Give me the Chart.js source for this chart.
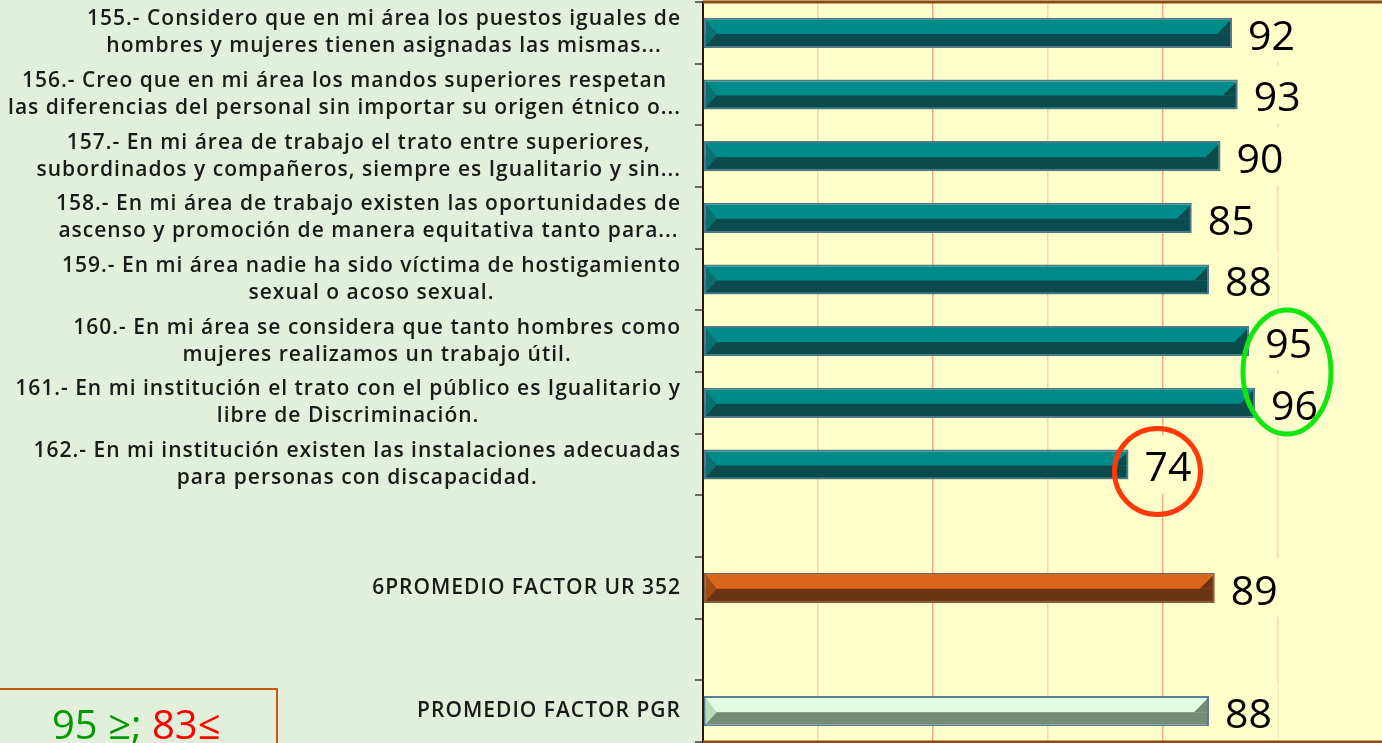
<!DOCTYPE html>
<html>
<head>
<meta charset="utf-8">
<script src="https://cdn.jsdelivr.net/npm/chart.js@4.4.1/dist/chart.umd.min.js"></script>
<style>
  html, body { margin: 0; padding: 0; width: 1382px; height: 743px; overflow: hidden; background: #e2efda; }
  #wrap { position: absolute; left: 0; top: 0; width: 1400px; height: 743px; }
  #rango {
    position: absolute; left: -2px; top: 688px; width: 280px; height: 80px;
    border: 2px solid #c55a11; box-sizing: border-box;
  }
  #rango span.t {
    position: absolute; left: 52px; top: 9px; white-space: nowrap;
    font-family: "Open Sans", sans-serif; font-weight: 500; font-size: 40px; line-height: 50px;
  }
</style>
</head>
<body>
<div id="wrap"><canvas id="grafica" width="1400" height="743"></canvas></div>
<div id="rango"><span class="t"><span style="color:#009900">95 ≥;</span> <span style="color:#ff0000">83≤</span></span></div>

<script>
// preguntas del factor (cada una en dos renglones)
const categorias = [
  ["155.- Considero que en mi área los puestos iguales de", "hombres y mujeres tienen asignadas las mismas..."],
  ["156.- Creo que en mi área los mandos superiores respetan", "las diferencias del personal sin importar su origen étnico o..."],
  ["157.- En mi área de trabajo el trato entre superiores,", "subordinados y compañeros, siempre es Igualitario y sin..."],
  ["158.- En mi área de trabajo existen las oportunidades de", "ascenso y promoción de manera equitativa tanto para..."],
  ["159.- En mi área nadie ha sido víctima de hostigamiento", "sexual o acoso sexual."],
  ["160.- En mi área se considera que tanto hombres como", "mujeres realizamos un trabajo útil."],
  ["161.- En mi institución el trato con el público es Igualitario y", "libre de Discriminación."],
  ["162.- En mi institución existen las instalaciones adecuadas", "para personas con discapacidad."],
  "",
  "6PROMEDIO FACTOR UR 352",
  "",
  "PROMEDIO FACTOR PGR"
];
const valores = [92, 93, 90, 85, 88, 95, 96, 74, null, 89, null, 88];
const ticksX = [0, 20, 40, 60, 80, 100, 120];

// índices resaltados (verde = arriba de 95, rojo = debajo de 83)
const resaltadosVerde = [5, 6];
const resaltadosRojo = [7];

// colores: claro arriba, oscuro abajo, borde
const estiloBarra = (i) => {
  if (i === 9) return { arriba: "#d9661a", abajo: "#6b3513", borde: "#8a5c3e", izq: "#a04a14" };
  if (i === 11) return { arriba: "#e0fbe0", abajo: "#748c76", borde: "#5b7d96", izq: "#b8dcbc" };
  return { arriba: "#008b8b", abajo: "#0c4b4d", borde: "#4f7888", izq: "#0b6e70" };
};

const FONDO_AREA = "#ffffcc";
const FUENTE = "'Open Sans', sans-serif";

const fondoArea = {
  id: "fondoArea",
  beforeDraw(chart) {
    const { ctx, chartArea: a } = chart;
    ctx.save();
    ctx.fillStyle = FONDO_AREA;
    ctx.fillRect(a.left, a.top, a.right - a.left, a.bottom - a.top);
    ctx.restore();
  }
};

// efecto 3D sobre las barras que dibuja Chart.js
const barras3d = {
  id: "barras3d",
  afterDatasetsDraw(chart) {
    const { ctx } = chart;
    const meta = chart.getDatasetMeta(0);
    ctx.save();
    meta.data.forEach((bar, i) => {
      if (valores[i] == null) return;
      const p = bar.getProps(["x", "y", "base", "height"], true);
      const c = estiloBarra(i);
      const b = 2;
      const izq = p.base + b, der = p.x - b;
      const arr = p.y - p.height / 2 + b, aba = p.y + p.height / 2 - b;
      const mid = p.y + 1;
      ctx.fillStyle = c.abajo;
      ctx.fillRect(izq, mid, der - izq, aba - mid);
      // bisel derecho
      ctx.beginPath();
      ctx.moveTo(der - 13, mid);
      ctx.lineTo(der, arr + 1);
      ctx.lineTo(der, mid);
      ctx.closePath();
      ctx.fill();
      // bisel izquierdo
      ctx.fillStyle = c.izq;
      ctx.beginPath();
      ctx.moveTo(izq, arr);
      ctx.lineTo(izq + 11, mid);
      ctx.lineTo(izq, aba);
      ctx.closePath();
      ctx.fill();
    });
    ctx.restore();
  }
};

// etiquetas de valor con fondo del área
const etiquetasValor = {
  id: "etiquetasValor",
  afterDatasetsDraw(chart) {
    const { ctx } = chart;
    const meta = chart.getDatasetMeta(0);
    ctx.save();
    ctx.font = "500 41px " + FUENTE;
    ctx.textBaseline = "middle";
    ctx.textAlign = "left";
    meta.data.forEach((bar, i) => {
      if (valores[i] == null) return;
      const txt = String(valores[i]);
      const w = ctx.measureText(txt).width;
      const x0 = bar.x + 16;
      ctx.fillStyle = FONDO_AREA;
      ctx.fillRect(x0 - 6, bar.y - 29, w + 12, 58);
      ctx.fillStyle = "#000";
      ctx.fillText(txt, x0, bar.y + 5);
    });
    ctx.restore();
  }
};

// etiquetas del eje vertical: bloque alineado a la derecha, renglones centrados
const etiquetasEje = {
  id: "etiquetasEje",
  afterDraw(chart) {
    const { ctx } = chart;
    const ys = chart.scales.y;
    ctx.save();
    ctx.font = "600 21px " + FUENTE;
    ctx.letterSpacing = "1px";
    ctx.fillStyle = "#1a1a1a";
    ctx.textAlign = "center";
    ctx.textBaseline = "middle";
    const derecha = ys.right - 22;
    const lh = 27;
    categorias.forEach((cat, i) => {
      const lineas = Array.isArray(cat) ? cat : [cat];
      if (!lineas[0]) return;
      const ancho = Math.max(...lineas.map(l => ctx.measureText(l).width));
      const cx = derecha - ancho / 2;
      const y0 = ys.getPixelForTick(i) - (lineas.length - 1) * lh / 2;
      lineas.forEach((l, k) => ctx.fillText(l, cx, y0 + k * lh));
    });
    ctx.restore();
  }
};

// marco café arriba/abajo y elipses de resaltado
const marcoYElipses = {
  id: "marcoYElipses",
  afterDraw(chart) {
    const { ctx, chartArea: a } = chart;
    const xs = chart.scales.x, ys = chart.scales.y;
    ctx.save();
    ctx.strokeStyle = "#8f4a12";
    ctx.lineWidth = 3;
    ctx.beginPath();
    ctx.moveTo(a.left, a.top); ctx.lineTo(a.right, a.top);
    ctx.moveTo(a.left, a.bottom); ctx.lineTo(a.right, a.bottom);
    ctx.stroke();

    ctx.lineWidth = 5;
    const gx = xs.getPixelForValue(100) + 9;
    const gy = (ys.getPixelForTick(resaltadosVerde[0]) + ys.getPixelForTick(resaltadosVerde[1])) / 2;
    ctx.strokeStyle = "#11e611";
    ctx.beginPath();
    ctx.ellipse(gx, gy, 44, 62, 0, 0, Math.PI * 2);
    ctx.stroke();

    const r = resaltadosRojo[0];
    const rx = xs.getPixelForValue(valores[r]) + 29;
    const ry = ys.getPixelForTick(r) + 7;
    ctx.strokeStyle = "#ff3a0a";
    ctx.beginPath();
    ctx.ellipse(rx, ry, 43, 43, 0, 0, Math.PI * 2);
    ctx.stroke();
    ctx.restore();
  }
};

const colorRejilla = (ctx) => {
  const v = ctx.tick && ctx.tick.value;
  if (v === 0 || v === 120) return "rgba(0,0,0,0)";
  return (v / 20) % 2 === 0 ? "#f2a987" : "#f9d3b2";
};

new Chart(document.getElementById("grafica"), {
  type: "bar",
  data: {
    labels: categorias,
    datasets: [{
      data: valores,
      backgroundColor: valores.map((_, i) => estiloBarra(i).arriba),
      borderColor: valores.map((_, i) => estiloBarra(i).borde),
      borderWidth: 2,
      borderSkipped: false,
      barPercentage: 0.49,
      categoryPercentage: 1.0
    }]
  },
  options: {
    indexAxis: "y",
    responsive: false,
    devicePixelRatio: 1,
    animation: false,
    layout: { padding: { top: 2, bottom: 1, left: 0, right: 7 } },
    plugins: { legend: { display: false }, tooltip: { enabled: false } },
    scales: {
      x: {
        min: ticksX[0],
        max: ticksX[ticksX.length - 1],
        afterBuildTicks: (s) => { s.ticks = ticksX.map(v => ({ value: v })); },
        ticks: { display: false },
        grid: { color: colorRejilla, lineWidth: 1.5, drawTicks: false },
        border: { display: false },
        afterFit: (s) => { s.height = 0; }
      },
      y: {
        ticks: { display: false },
        grid: { drawOnChartArea: false, offset: true, tickLength: 8, color: "#6a6a6a", lineWidth: 2 },
        border: { display: true, color: "#2a1608", width: 2 },
        afterFit: (s) => { s.width = 703; }
      }
    }
  },
  plugins: [fondoArea, barras3d, etiquetasValor, etiquetasEje, marcoYElipses]
});
</script>
</body>
</html>
